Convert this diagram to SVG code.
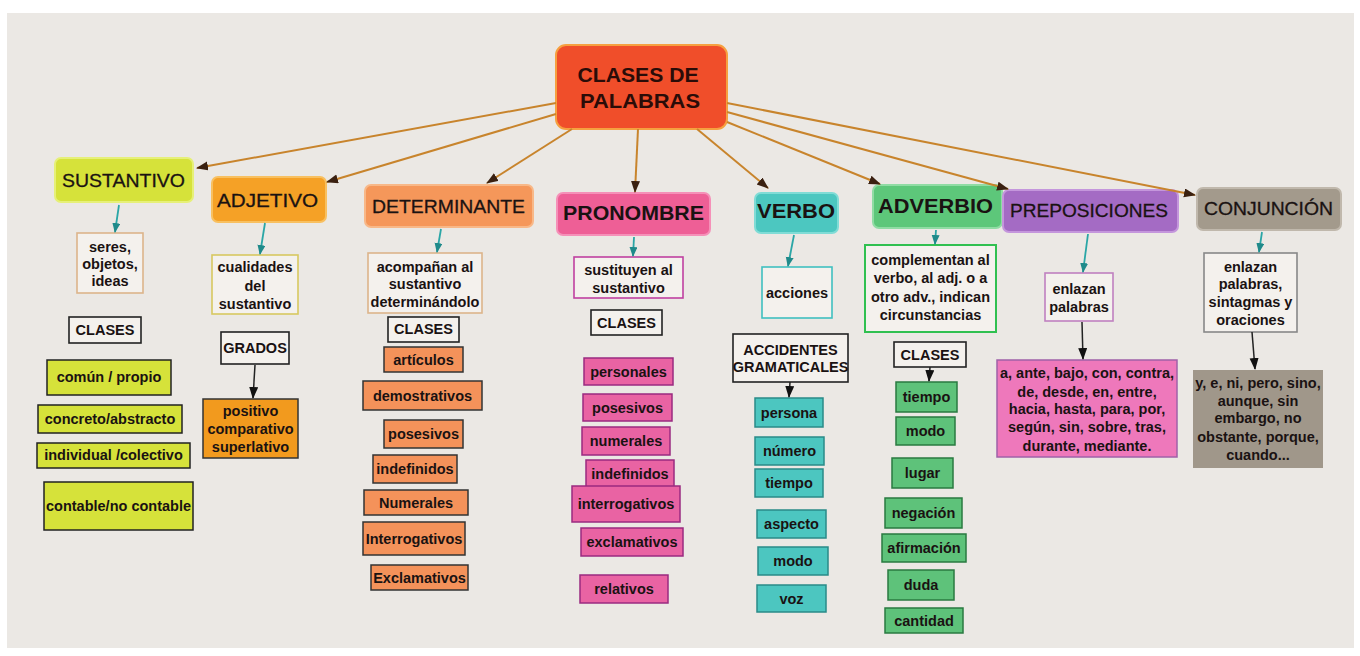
<svg xmlns="http://www.w3.org/2000/svg" width="1360" height="656" viewBox="0 0 1360 656">
<defs>
<style>
text{font-family:"Liberation Sans",Arial,Helvetica,sans-serif;fill:#1a1212;text-anchor:middle}
.t{font-size:14.5px;font-weight:bold}
.h{font-size:19px;stroke:#1a1212;stroke-width:0.3}
.hb{font-size:21px;font-weight:bold}
.desc{fill:#f4f1ed;stroke-width:1.6}
.cls{fill:#f4f1ed;stroke:#222;stroke-width:1.6}
.sus{fill:#d6e23a;stroke:#222;stroke-width:1.5}
.adj{fill:#f29a1e;stroke:#333;stroke-width:1.5}
.det{fill:#f4925a;stroke:#333;stroke-width:1.5}
.pro{fill:#e963a3;stroke:#9a2a80;stroke-width:1.5}
.ver{fill:#4cc6c0;stroke:#2a8a88;stroke-width:1.5}
.adv{fill:#5ec27a;stroke:#2a7a40;stroke-width:1.5}
.main{stroke:#c8842c;stroke-width:2;fill:none;marker-end:url(#ah)}
.teal{stroke:#2aa6a6;stroke-width:1.8;fill:none;marker-end:url(#at)}
.blk{stroke:#222;stroke-width:1.5;fill:none;marker-end:url(#ab)}
</style>
<marker id="ah" markerUnits="userSpaceOnUse" markerWidth="12" markerHeight="10" refX="11" refY="4.5" orient="auto"><path d="M0,0 L12,4.5 L0,9 z" fill="#3a2010"/></marker>
<marker id="at" markerUnits="userSpaceOnUse" markerWidth="10" markerHeight="10" refX="9" refY="4" orient="auto"><path d="M0,0 L10,4 L0,8 z" fill="#1f8a8a"/></marker>
<marker id="ab" markerUnits="userSpaceOnUse" markerWidth="12" markerHeight="10" refX="11" refY="4.5" orient="auto"><path d="M0,0 L12,4.5 L0,9 z" fill="#111"/></marker>
</defs>
<rect x="0" y="0" width="1360" height="656" fill="#ffffff"/>
<rect x="7" y="13" width="1347" height="635" fill="#ebe8e4"/>

<g id="title">
<rect x="556" y="45" width="171" height="84" rx="10" fill="#f04e2a" stroke="#f6a040" stroke-width="2"/>
<text x="638" y="82" style="font-size:21px;font-weight:bold;fill:#2a0c08" textLength="121" lengthAdjust="spacingAndGlyphs">CLASES DE</text>
<text x="640" y="108" style="font-size:21px;font-weight:bold;fill:#2a0c08" textLength="120" lengthAdjust="spacingAndGlyphs">PALABRAS</text>
</g>

<g id="sustantivo">
<rect x="55" y="158" width="138" height="44" rx="6" fill="#d6e23a" stroke="#e6f078" stroke-width="2"/>
<text class="h" x="123.5" y="187" textLength="123" lengthAdjust="spacingAndGlyphs">SUSTANTIVO</text>
</g>
<g id="sus-desc">
<rect class="desc" x="77" y="233" width="66" height="60" stroke="#dcb48a"/>
<text class="t" x="110" y="252">seres,</text>
<text class="t" x="110" y="269">objetos,</text>
<text class="t" x="110" y="286">ideas</text>
</g>
<g id="sus-clases"><rect class="cls" x="69" y="317" width="72" height="26"/><text class="t" x="105" y="335">CLASES</text></g>
<g id="sus-1"><rect class="sus" x="47" y="360" width="124" height="35"/><text class="t" x="109" y="382">común / propio</text></g>
<g id="sus-2"><rect class="sus" x="38" y="405" width="144" height="28"/><text class="t" x="110" y="424">concreto/abstracto</text></g>
<g id="sus-3"><rect class="sus" x="37" y="443" width="153" height="25"/><text class="t" x="113.5" y="460">individual /colectivo</text></g>
<g id="sus-4"><rect class="sus" x="44" y="482" width="149" height="48"/><text class="t" x="118.5" y="511">contable/no contable</text></g>

<g id="adjetivo">
<rect x="212" y="177" width="114" height="45" rx="6" fill="#f5a126" stroke="#f8c060" stroke-width="2"/>
<text class="h" x="267.5" y="207" textLength="101" lengthAdjust="spacingAndGlyphs">ADJETIVO</text>
</g>
<g id="adj-desc">
<rect class="desc" x="212" y="255" width="86" height="59" stroke="#d8c860"/>
<text class="t" x="255" y="272">cualidades</text>
<text class="t" x="255" y="291">del</text>
<text class="t" x="255" y="309">sustantivo</text>
</g>
<g id="adj-grados"><rect class="cls" x="221" y="332" width="68" height="32"/><text class="t" x="255" y="353">GRADOS</text></g>
<g id="adj-grad">
<rect class="adj" x="203" y="399" width="95" height="59"/>
<text class="t" x="250.5" y="416">positivo</text>
<text class="t" x="250.5" y="434">comparativo</text>
<text class="t" x="250.5" y="452">superlativo</text>
</g>

<g id="determinante">
<rect x="365" y="185" width="168" height="42" rx="6" fill="#f5975a" stroke="#f8b888" stroke-width="2"/>
<text class="h" x="448.5" y="213" textLength="153" lengthAdjust="spacingAndGlyphs">DETERMINANTE</text>
</g>
<g id="det-desc">
<rect class="desc" x="368" y="253" width="114" height="60" stroke="#dcb48a"/>
<text class="t" x="425" y="272">acompañan al</text>
<text class="t" x="425" y="289">sustantivo</text>
<text class="t" x="425" y="307">determinándolo</text>
</g>
<g id="det-clases"><rect class="cls" x="388" y="317" width="71" height="25"/><text class="t" x="423.5" y="334">CLASES</text></g>
<g id="det-1"><rect class="det" x="384" y="347" width="79" height="25"/><text class="t" x="423.5" y="364.5">artículos</text></g>
<g id="det-2"><rect class="det" x="363" y="381" width="119" height="29"/><text class="t" x="422.5" y="400.5">demostrativos</text></g>
<g id="det-3"><rect class="det" x="384" y="420" width="79" height="28"/><text class="t" x="423.5" y="439">posesivos</text></g>
<g id="det-4"><rect class="det" x="373" y="455" width="84" height="28"/><text class="t" x="415" y="474">indefinidos</text></g>
<g id="det-5"><rect class="det" x="364" y="490" width="104" height="25"/><text class="t" x="416" y="507.5">Numerales</text></g>
<g id="det-6"><rect class="det" x="363" y="522" width="102" height="33"/><text class="t" x="414" y="543.5">Interrogativos</text></g>
<g id="det-7"><rect class="det" x="371" y="565" width="97" height="25"/><text class="t" x="419.5" y="582.5">Exclamativos</text></g>

<g id="pronombre">
<rect x="557" y="193" width="153" height="42" rx="6" fill="#ee5f96" stroke="#f590b8" stroke-width="2"/>
<text class="hb" x="633.5" y="220" textLength="141" lengthAdjust="spacingAndGlyphs">PRONOMBRE</text>
</g>
<g id="pro-desc">
<rect class="desc" x="574" y="257" width="109" height="41" stroke="#c040a0"/>
<text class="t" x="628.5" y="275">sustituyen al</text>
<text class="t" x="628.5" y="293">sustantivo</text>
</g>
<g id="pro-clases"><rect class="cls" x="591" y="310" width="71" height="25"/><text class="t" x="626.5" y="327.5">CLASES</text></g>
<g id="pro-1"><rect class="pro" x="584" y="358" width="89" height="27"/><text class="t" x="628.5" y="376.5">personales</text></g>
<g id="pro-2"><rect class="pro" x="583" y="394" width="89" height="27"/><text class="t" x="627.5" y="412.5">posesivos</text></g>
<g id="pro-3"><rect class="pro" x="582" y="427" width="88" height="28"/><text class="t" x="626" y="446">numerales</text></g>
<g id="pro-4"><rect class="pro" x="586" y="460" width="88" height="27"/><text class="t" x="630" y="478.5">indefinidos</text></g>
<g id="pro-5"><rect class="pro" x="572" y="486" width="108" height="36"/><text class="t" x="626" y="509">interrogativos</text></g>
<g id="pro-6"><rect class="pro" x="581" y="528" width="102" height="28"/><text class="t" x="632" y="547">exclamativos</text></g>
<g id="pro-7"><rect class="pro" x="580" y="575" width="88" height="28"/><text class="t" x="624" y="594">relativos</text></g>

<g id="verbo">
<rect x="755" y="193" width="83" height="40" rx="6" fill="#4cc7c0" stroke="#80dcd6" stroke-width="2"/>
<text class="hb" x="796" y="218" textLength="78" lengthAdjust="spacingAndGlyphs">VERBO</text>
</g>
<g id="ver-desc"><rect class="desc" x="762" y="267" width="70" height="51" stroke="#40c0c0"/><text class="t" x="797" y="297.5">acciones</text></g>
<g id="ver-acc">
<rect class="cls" x="733" y="334" width="115" height="48"/>
<text class="t" x="790.5" y="355">ACCIDENTES</text>
<text class="t" x="790.5" y="372">GRAMATICALES</text>
</g>
<g id="ver-1"><rect class="ver" x="755" y="398" width="68" height="29"/><text class="t" x="789" y="417.5">persona</text></g>
<g id="ver-2"><rect class="ver" x="755" y="437" width="69" height="28"/><text class="t" x="789.5" y="456">número</text></g>
<g id="ver-3"><rect class="ver" x="755" y="469" width="68" height="28"/><text class="t" x="789" y="488">tiempo</text></g>
<g id="ver-4"><rect class="ver" x="757" y="510" width="69" height="28"/><text class="t" x="791.5" y="529">aspecto</text></g>
<g id="ver-5"><rect class="ver" x="758" y="547" width="70" height="28"/><text class="t" x="793" y="566">modo</text></g>
<g id="ver-6"><rect class="ver" x="757" y="585" width="69" height="27"/><text class="t" x="791.5" y="603.5">voz</text></g>

<g id="adverbio">
<rect x="873" y="185" width="129" height="43" rx="6" fill="#5dc77a" stroke="#90dca4" stroke-width="2"/>
<text class="hb" x="935.5" y="213" textLength="115" lengthAdjust="spacingAndGlyphs">ADVERBIO</text>
</g>
<g id="adv-desc">
<rect class="desc" x="865" y="245" width="131" height="87" stroke="#30c050" style="stroke-width:2"/>
<text class="t" x="930.5" y="265">complementan al</text>
<text class="t" x="930.5" y="283">verbo, al adj. o a</text>
<text class="t" x="930.5" y="302">otro adv., indican</text>
<text class="t" x="930.5" y="320">circunstancias</text>
</g>
<g id="adv-clases"><rect class="cls" x="894" y="342" width="72" height="25"/><text class="t" x="930" y="359.5">CLASES</text></g>
<g id="adv-1"><rect class="adv" x="896" y="382" width="61" height="30"/><text class="t" x="926.5" y="402">tiempo</text></g>
<g id="adv-2"><rect class="adv" x="896" y="417" width="59" height="28"/><text class="t" x="925.5" y="436">modo</text></g>
<g id="adv-3"><rect class="adv" x="892" y="458" width="61" height="30"/><text class="t" x="922.5" y="478">lugar</text></g>
<g id="adv-4"><rect class="adv" x="885" y="498" width="77" height="30"/><text class="t" x="923.5" y="518">negación</text></g>
<g id="adv-5"><rect class="adv" x="882" y="534" width="84" height="28"/><text class="t" x="924" y="553">afirmación</text></g>
<g id="adv-6"><rect class="adv" x="888" y="570" width="66" height="30"/><text class="t" x="921" y="590">duda</text></g>
<g id="adv-7"><rect class="adv" x="885" y="608" width="78" height="25"/><text class="t" x="924" y="625.5">cantidad</text></g>

<g id="preposiciones">
<rect x="1003" y="190" width="175" height="42" rx="6" fill="#a46bc4" stroke="#c496dc" stroke-width="2"/>
<text class="h" x="1089" y="217" textLength="158" lengthAdjust="spacingAndGlyphs">PREPOSICIONES</text>
</g>
<g id="pre-desc">
<rect class="desc" x="1045" y="273" width="68" height="48" stroke="#c080c0"/>
<text class="t" x="1079" y="294">enlazan</text>
<text class="t" x="1079" y="312">palabras</text>
</g>
<g id="pre-list">
<rect x="997" y="360" width="180" height="97" fill="#ee78bb" stroke="#a060a8" stroke-width="1.5"/>
<text class="t" x="1087" y="378">a, ante, bajo, con, contra,</text>
<text class="t" x="1087" y="397">de, desde, en, entre,</text>
<text class="t" x="1087" y="414">hacia, hasta, para, por,</text>
<text class="t" x="1087" y="432">según, sin, sobre, tras,</text>
<text class="t" x="1087" y="451">durante, mediante.</text>
</g>

<g id="conjuncion">
<rect x="1197" y="188" width="144" height="42" rx="6" fill="#a39a8c" stroke="#c0b8ac" stroke-width="2"/>
<text class="h" x="1268.5" y="215" textLength="129" lengthAdjust="spacingAndGlyphs">CONJUNCIÓN</text>
</g>
<g id="con-desc">
<rect class="desc" x="1204" y="253" width="93" height="79" stroke="#888"/>
<text class="t" x="1250.5" y="272">enlazan</text>
<text class="t" x="1250.5" y="289">palabras,</text>
<text class="t" x="1250.5" y="307">sintagmas y</text>
<text class="t" x="1250.5" y="325">oraciones</text>
</g>
<g id="con-list">
<rect x="1193" y="370" width="130" height="98" fill="#a0978a"/>
<text class="t" x="1258" y="388">y, e, ni, pero, sino,</text>
<text class="t" x="1258" y="406">aunque, sin</text>
<text class="t" x="1258" y="423">embargo, no</text>
<text class="t" x="1258" y="442">obstante, porque,</text>
<text class="t" x="1258" y="460">cuando...</text>
</g>

<g id="connectors">
<line class="main" x1="556" y1="103" x2="197" y2="168"/>
<line class="main" x1="556" y1="114" x2="327" y2="182"/>
<line class="main" x1="572" y1="129" x2="487" y2="183"/>
<line class="main" x1="638" y1="129" x2="635" y2="192"/>
<line class="main" x1="697" y1="129" x2="768" y2="188"/>
<line class="main" x1="727" y1="122" x2="880" y2="184"/>
<line class="main" x1="727" y1="112" x2="1008" y2="189"/>
<line class="main" x1="727" y1="103" x2="1195" y2="195"/>
<line class="teal" x1="119" y1="205" x2="115" y2="232"/>
<line class="teal" x1="265" y1="223" x2="260" y2="254"/>
<line class="teal" x1="441" y1="229" x2="437" y2="252"/>
<line class="teal" x1="634" y1="237" x2="633" y2="256"/>
<line class="teal" x1="794" y1="235" x2="788" y2="266"/>
<line class="teal" x1="936" y1="230" x2="935" y2="244"/>
<line class="teal" x1="1088" y1="234" x2="1083" y2="272"/>
<line class="teal" x1="1262" y1="232" x2="1259" y2="252"/>
<line class="blk" x1="255" y1="365" x2="253" y2="398"/>
<line class="blk" x1="790" y1="382" x2="789" y2="397"/>
<line class="blk" x1="930" y1="367" x2="929" y2="381"/>
<line class="blk" x1="1082" y1="322" x2="1083" y2="359"/>
<line class="blk" x1="1252" y1="332" x2="1255" y2="369"/>
</g>
</svg>
